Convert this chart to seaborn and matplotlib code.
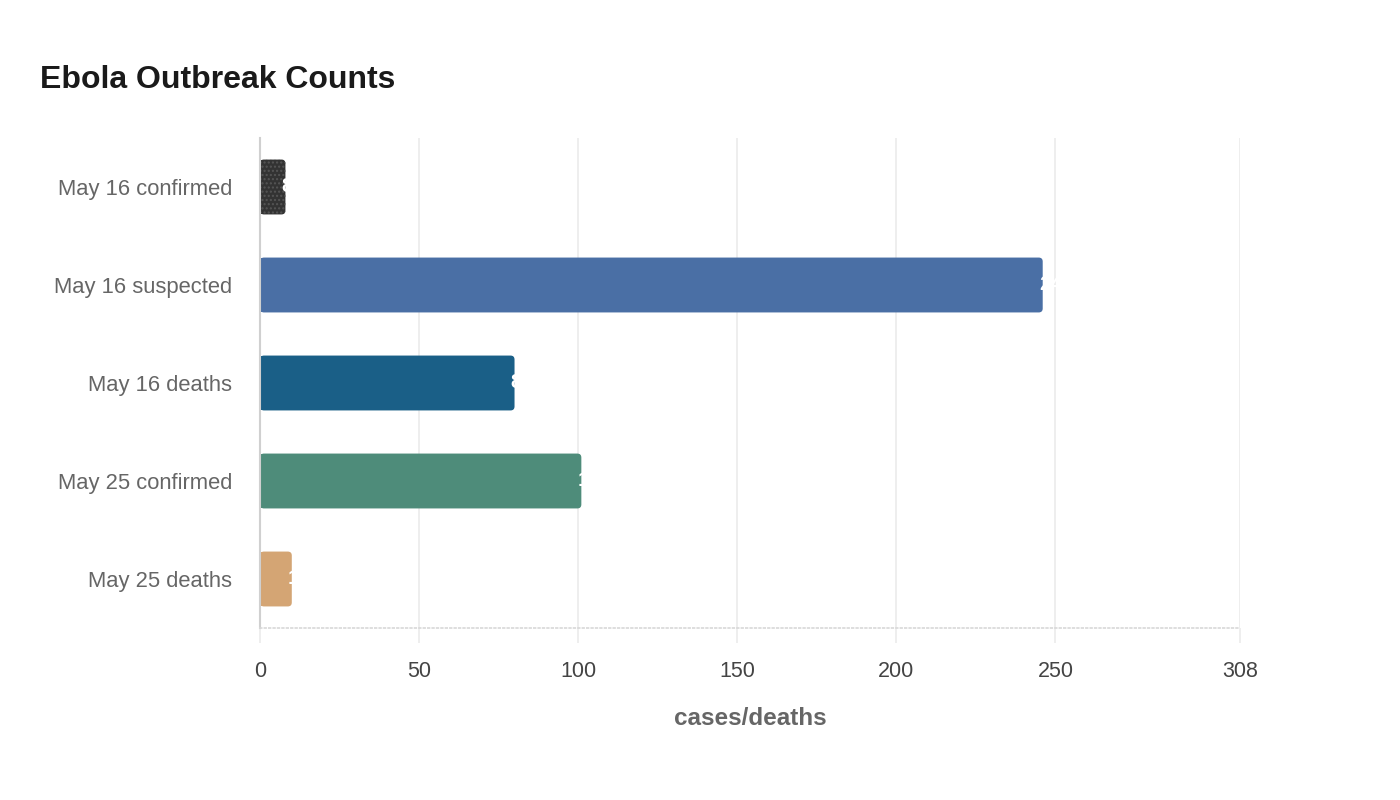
import matplotlib
matplotlib.use("Agg")
import matplotlib.pyplot as plt
from matplotlib.patches import FancyBboxPatch, Rectangle
import seaborn as sns
import pandas as pd

categories = ["May 16 confirmed", "May 16 suspected", "May 16 deaths",
              "May 25 confirmed", "May 25 deaths"]
counts = [8, 246, 80, 101, 10]
bar_colors = ["#333333", "#4a6fa5", "#1a5f87", "#4e8c7a", "#d4a574"]
x_ticks = [0, 50, 100, 150, 200, 250, 308]

sns.set_theme(style="white")
plt.rcParams["font.family"] = ["Liberation Sans", "DejaVu Sans"]

df = pd.DataFrame({"category": categories, "count": counts})

fig = plt.figure(figsize=(14, 8), dpi=100)
ax = fig.add_axes([0.1857, 0.215, 0.7, 0.6125])

sns.barplot(data=df, x="count", y="category", hue="category",
            palette=bar_colors, saturation=1, width=0.56, legend=False, ax=ax)

ax.set_xlim(0, 308)
ax.set_ylim(4.5, -0.5)

# swap plain rectangles for right-rounded ones
fig.canvas.draw()
bbox = ax.get_window_extent()
px_x = bbox.width / 308.0
px_y = bbox.height / 5.0
r = 4.0 / px_x
aspect = (4.0 / px_y) / r
for i, p in enumerate(list(ax.patches)):
    x0, y0, w, h = p.get_x(), p.get_y(), p.get_width(), p.get_height()
    c = p.get_facecolor()
    p.remove()
    hatch = "...." if i == 0 else None
    ec = "#555555" if i == 0 else "none"
    rb = FancyBboxPatch((x0, y0), w, h, boxstyle=f"round,pad=0,rounding_size={r}",
                        mutation_aspect=aspect, facecolor=c, edgecolor=ec,
                        linewidth=0, hatch=hatch, zorder=2)
    ax.add_patch(rb)
    ax.add_patch(Rectangle((x0, y0), w / 2, h, facecolor=c, edgecolor=ec,
                           linewidth=0, hatch=hatch, zorder=2))
    # value label, white at bar end
    ax.text(x0 + w - 1.2, y0 + h / 2, str(counts[i]), color="white",
            fontsize=15, fontweight="bold", ha="left", va="center", zorder=3)

ax.set_xticks(x_ticks)
ax.xaxis.grid(True, color="#ebebeb", linewidth=1.2, zorder=0)
ax.set_axisbelow(True)
ax.tick_params(axis="x", direction="out", length=11, width=1.2, color="#ebebeb",
               labelsize=15.5, labelcolor="#444444", pad=13, bottom=True)
ax.tick_params(axis="y", length=0, labelsize=15.8, labelcolor="#666666", pad=20)

for s in ["top", "right"]:
    ax.spines[s].set_visible(False)
ax.spines["left"].set_color("#d0d0d0")
ax.spines["left"].set_linewidth(1.5)
ax.spines["bottom"].set_color("#d8d8d8")
ax.spines["bottom"].set_linestyle(":")
ax.spines["bottom"].set_linewidth(1.2)

ax.set_ylabel("")
ax.set_xlabel("cases/deaths", fontsize=17.5, fontweight="bold", color="#666666",
              labelpad=18)

fig.text(40 / 1400, 1 - 80 / 800, "Ebola Outbreak Counts", fontsize=23,
         fontweight="bold", color="#1a1a1a", ha="left", va="center")

fig.savefig("out.png", dpi=100)
